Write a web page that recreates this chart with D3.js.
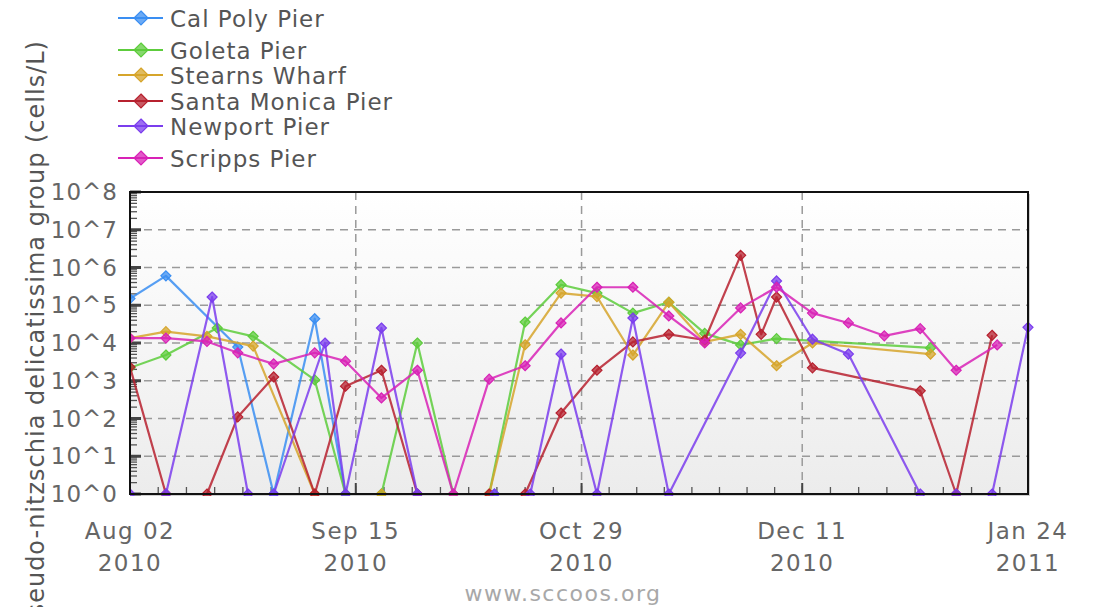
<!DOCTYPE html>
<html>
<head>
<meta charset="utf-8">
<script src="https://cdn.jsdelivr.net/npm/d3@7"></script>
<style>
  body { margin: 0; background: #fff; }
  svg { display: block; font-family: "DejaVu Sans", sans-serif; }
</style>
</head>
<body>
<script>
// station names and colours
var stations = ["Cal Poly Pier", "Goleta Pier", "Stearns Wharf", "Santa Monica Pier", "Newport Pier", "Scripps Pier"];
var colors = ["#3a8ef2", "#5dcc3c", "#d6a52b", "#b7212f", "#7b3ded", "#d822b6"];

// cells/L per sample date (0 = none found, drawn on the 10^0 line)
var calPoly = [["2010-08-02",1.5e5],["2010-08-09",6e5],["2010-08-23",7.8e3],["2010-08-30",0],["2010-09-07",4.4e4],
  ["2010-09-13",0],["2010-09-20",0],["2010-09-27",0],["2010-10-12",0]];
var goleta = [["2010-08-02",2.2e3],["2010-08-09",4.8e3],["2010-08-19",2.5e4],["2010-08-26",1.5e4],["2010-09-07",1.05e3],
  ["2010-09-13",0],["2010-09-20",0],["2010-09-27",1e4],["2010-10-04",0],["2010-10-11",0],["2010-10-18",3.6e4],
  ["2010-10-25",3.5e5],["2010-11-01",2.1e5],["2010-11-08",6.2e4],["2010-11-15",1.2e5],["2010-11-22",1.8e4],
  ["2010-11-29",8.9e3],["2010-12-06",1.3e4],["2011-01-05",7.4e3]];
var stearns = [["2010-08-02",1.35e4],["2010-08-09",2e4],["2010-08-17",1.5e4],["2010-08-26",8.3e3],["2010-09-07",0],
  ["2010-09-20",0],["2010-10-11",0],["2010-10-18",9e3],["2010-10-25",2.1e5],["2010-11-01",1.7e5],["2010-11-08",4.8e3],
  ["2010-11-15",1.2e5],["2010-11-22",1.07e4],["2010-11-29",1.7e4],["2010-12-06",2.5e3],["2010-12-13",1e4],["2011-01-05",5.1e3]];
var santaMonica = [["2010-08-02",2.3e3],["2010-08-09",0],["2010-08-17",0],["2010-08-23",1.1e2],["2010-08-30",1.26e3],
  ["2010-09-07",0],["2010-09-13",7.2e2],["2010-09-20",1.9e3],["2010-09-27",0],["2010-10-11",0],["2010-10-18",0],
  ["2010-10-25",1.4e2],["2010-11-01",1.9e3],["2010-11-08",1.07e4],["2010-11-15",1.7e4],["2010-11-22",1.2e4],
  ["2010-11-29",2.1e6],["2010-12-03",1.7e4],["2010-12-06",1.65e5],["2010-12-13",2.2e3],["2011-01-03",5.4e2],
  ["2011-01-10",0],["2011-01-17",1.6e4]];
var newport = [["2010-08-02",0],["2010-08-09",0],["2010-08-18",1.65e5],["2010-08-25",0],["2010-08-30",0],["2010-09-09",1e4],
  ["2010-09-13",0],["2010-09-20",2.5e4],["2010-09-27",0],["2010-10-12",0],["2010-10-19",0],["2010-10-25",5.1e3],
  ["2010-11-01",0],["2010-11-08",4.6e4],["2010-11-15",0],["2010-11-29",5.4e3],["2010-12-06",4.4e5],["2010-12-13",1.26e4],
  ["2010-12-20",5.1e3],["2011-01-03",0],["2011-01-10",0],["2011-01-17",0],["2011-01-24",2.6e4]];
var scripps = [["2010-08-02",1.35e4],["2010-08-09",1.35e4],["2010-08-17",1.1e4],["2010-08-23",5.5e3],["2010-08-30",2.8e3],
  ["2010-09-07",5.5e3],["2010-09-13",3.3e3],["2010-09-20",3.5e2],["2010-09-27",1.9e3],["2010-10-04",0],["2010-10-11",1.1e3],
  ["2010-10-18",2.5e3],["2010-10-25",3.4e4],["2010-11-01",3e5],["2010-11-08",3e5],["2010-11-15",5.2e4],["2010-11-22",1e4],
  ["2010-11-29",8.5e4],["2010-12-06",3e5],["2010-12-13",6.2e4],["2010-12-20",3.4e4],["2010-12-27",1.55e4],
  ["2011-01-03",2.4e4],["2011-01-10",1.9e3],["2011-01-18",8.9e3]];

// axis ticks
var xTickDates = ["2010-08-02", "2010-09-15", "2010-10-29", "2010-12-11", "2011-01-24"];
var xTickLabels = [["Aug 02","2010"], ["Sep 15","2010"], ["Oct 29","2010"], ["Dec 11","2010"], ["Jan 24","2011"]];
var yTickValues = [1, 1e1, 1e2, 1e3, 1e4, 1e5, 1e6, 1e7, 1e8];
var yTickLabels = ["10^0", "10^1", "10^2", "10^3", "10^4", "10^5", "10^6", "10^7", "10^8"];

window.onload = drawChart();

function drawChart(){
    var width = 1098,
        height = 607;
    var left = 130, right = 1028, top = 192, bottom = 494;

    var parse = d3.utcParse("%Y-%m-%d");
    var allSeries = [calPoly, goleta, stearns, santaMonica, newport, scripps];

    var svg = d3.select("body")
        .append("svg")
        .attr("width", width)
        .attr("height", height);

    var x = d3.scaleUtc()
        .domain([parse(xTickDates[0]), parse(xTickDates[xTickDates.length - 1])])
        .range([left, right]);

    var y = d3.scaleLog()
        .domain([1, 1e8])
        .range([bottom, top]);

    var defs = svg.append("defs");
    var grad = defs.append("linearGradient")
        .attr("id", "bg")
        .attr("x1", 0).attr("y1", 0).attr("x2", 0).attr("y2", 1);
    grad.append("stop").attr("offset", "0%").attr("stop-color", "#ffffff");
    grad.append("stop").attr("offset", "100%").attr("stop-color", "#ececec");

    defs.append("clipPath").attr("id", "plotclip")
        .append("rect")
        .attr("x", left).attr("y", top - 6)
        .attr("width", right - left + 6).attr("height", bottom - top + 8);

    //shadow + background
    svg.append("rect")
        .attr("x", left + 2).attr("y", top + 2)
        .attr("width", right - left).attr("height", bottom - top)
        .attr("fill", "#d0d0d0");
    svg.append("rect")
        .attr("x", left).attr("y", top)
        .attr("width", right - left).attr("height", bottom - top)
        .attr("fill", "url(#bg)");

    //horizontal grid
    svg.selectAll(".hgrid")
        .data(yTickValues.slice(1, -1))
        .enter()
        .append("line")
        .attr("x1", left).attr("x2", right)
        .attr("y1", function(d){ return y(d); })
        .attr("y2", function(d){ return y(d); })
        .attr("stroke", "#9a9a9a")
        .attr("stroke-width", 1.5)
        .attr("stroke-dasharray", "8,6");

    //vertical grid
    svg.selectAll(".vgrid")
        .data(xTickDates.slice(1, -1))
        .enter()
        .append("line")
        .attr("x1", function(d){ return x(parse(d)); })
        .attr("x2", function(d){ return x(parse(d)); })
        .attr("y1", top).attr("y2", bottom)
        .attr("stroke", "#9a9a9a")
        .attr("stroke-width", 1.5)
        .attr("stroke-dasharray", "8,6");

    //y minor + major ticks on the left edge
    var yMinor = [];
    for (var e = 0; e < 8; e++) {
        for (var m = 2; m <= 9; m++) yMinor.push(m * Math.pow(10, e));
    }
    svg.selectAll(".yminor")
        .data(yMinor)
        .enter()
        .append("line")
        .attr("x1", left).attr("x2", left + 7)
        .attr("y1", function(d){ return y(d); })
        .attr("y2", function(d){ return y(d); })
        .attr("stroke", "#555")
        .attr("stroke-width", 1.3);
    svg.selectAll(".ymajor")
        .data(yTickValues)
        .enter()
        .append("line")
        .attr("x1", left).attr("x2", left + 11)
        .attr("y1", function(d){ return y(d); })
        .attr("y2", function(d){ return y(d); })
        .attr("stroke", "#444")
        .attr("stroke-width", 3);

    //x minor ticks: 8 per interval
    var xMinor = [];
    for (var i = 0; i < xTickDates.length - 1; i++) {
        var a = parse(xTickDates[i]).getTime(), b = parse(xTickDates[i + 1]).getTime();
        for (var k = 1; k < 8; k++) xMinor.push(new Date(a + (b - a) * k / 8));
    }
    svg.selectAll(".xminor")
        .data(xMinor)
        .enter()
        .append("line")
        .attr("x1", function(d){ return x(d); })
        .attr("x2", function(d){ return x(d); })
        .attr("y1", bottom).attr("y2", bottom - 7)
        .attr("stroke", "#555")
        .attr("stroke-width", 1.3);
    svg.selectAll(".xmajor")
        .data(xTickDates)
        .enter()
        .append("line")
        .attr("x1", function(d){ return x(parse(d)); })
        .attr("x2", function(d){ return x(parse(d)); })
        .attr("y1", bottom).attr("y2", bottom - 11)
        .attr("stroke", "#444")
        .attr("stroke-width", 2);

    //series lines and markers
    var line = d3.line()
        .x(function(d){ return x(parse(d[0])); })
        .y(function(d){ return y(Math.max(1, d[1])); });

    var diamond = function(s){ return "M0," + (-s) + "L" + s + ",0L0," + s + "L" + (-s) + ",0Z"; };

    var plot = svg.append("g").attr("clip-path", "url(#plotclip)");

    allSeries.forEach(function(series, si){
        plot.append("path")
            .datum(series)
            .attr("d", line)
            .attr("fill", "none")
            .attr("stroke", colors[si])
            .attr("stroke-width", 2.2)
            .attr("stroke-opacity", 0.85)
            .attr("stroke-linejoin", "round");

        plot.selectAll(".pt" + si)
            .data(series)
            .enter()
            .append("path")
            .attr("d", diamond(5))
            .attr("transform", function(d){ return "translate(" + x(parse(d[0])) + "," + y(Math.max(1, d[1])) + ")"; })
            .attr("fill", colors[si])
            .attr("fill-opacity", 0.75)
            .attr("stroke", colors[si])
            .attr("stroke-width", 1.2);
    });

    //frame
    svg.append("rect")
        .attr("x", left).attr("y", top)
        .attr("width", right - left).attr("height", bottom - top)
        .attr("fill", "none")
        .attr("stroke", "#111")
        .attr("stroke-width", 2);

    //y tick labels
    svg.selectAll(".ylab")
        .data(yTickValues)
        .enter()
        .append("text")
        .attr("x", 118)
        .attr("y", function(d){ return y(d) + 8; })
        .attr("text-anchor", "end")
        .attr("font-size", 23)
        .attr("letter-spacing", 1)
        .attr("fill", "#666")
        .text(function(d, i){ return yTickLabels[i]; });

    //x tick labels
    var xl = svg.selectAll(".xlab")
        .data(xTickDates)
        .enter()
        .append("text")
        .attr("text-anchor", "middle")
        .attr("font-size", 23)
        .attr("letter-spacing", 1.5)
        .attr("fill", "#666");
    xl.append("tspan")
        .attr("x", function(d){ return x(parse(d)); })
        .attr("y", 539)
        .text(function(d, i){ return xTickLabels[i][0]; });
    xl.append("tspan")
        .attr("x", function(d){ return x(parse(d)); })
        .attr("y", 571)
        .text(function(d, i){ return xTickLabels[i][1]; });

    //y axis title (runs off the bottom like the original)
    svg.append("text")
        .attr("transform", "translate(44,40) rotate(-90)")
        .attr("text-anchor", "end")
        .attr("font-size", 24)
        .attr("letter-spacing", 1)
        .attr("fill", "#555")
        .text("Pseudo-nitzschia delicatissima group (cells/L)");

    //credit
    svg.append("text")
        .attr("x", 563).attr("y", 601)
        .attr("text-anchor", "middle")
        .attr("font-size", 22)
        .attr("letter-spacing", 1.5)
        .attr("fill", "#a8a8a8")
        .text("www.sccoos.org");

    //legend
    var legendY = [18, 50, 75, 101, 126, 158];
    var leg = svg.selectAll(".legend")
        .data(stations)
        .enter()
        .append("g")
        .attr("transform", function(d, i){ return "translate(141," + legendY[i] + ")"; });
    leg.append("line")
        .attr("x1", -23).attr("x2", 22)
        .attr("stroke", function(d, i){ return colors[i]; })
        .attr("stroke-width", 2);
    leg.append("path")
        .attr("d", diamond(7))
        .attr("fill", function(d, i){ return colors[i]; })
        .attr("fill-opacity", 0.75)
        .attr("stroke", function(d, i){ return colors[i]; })
        .attr("stroke-width", 1.2);
    leg.append("text")
        .attr("x", 29)
        .attr("y", 8.5)
        .attr("font-size", 23)
        .attr("letter-spacing", 1)
        .attr("fill", "#555")
        .text(function(d){ return d; });
};
</script>
</body>
</html>
